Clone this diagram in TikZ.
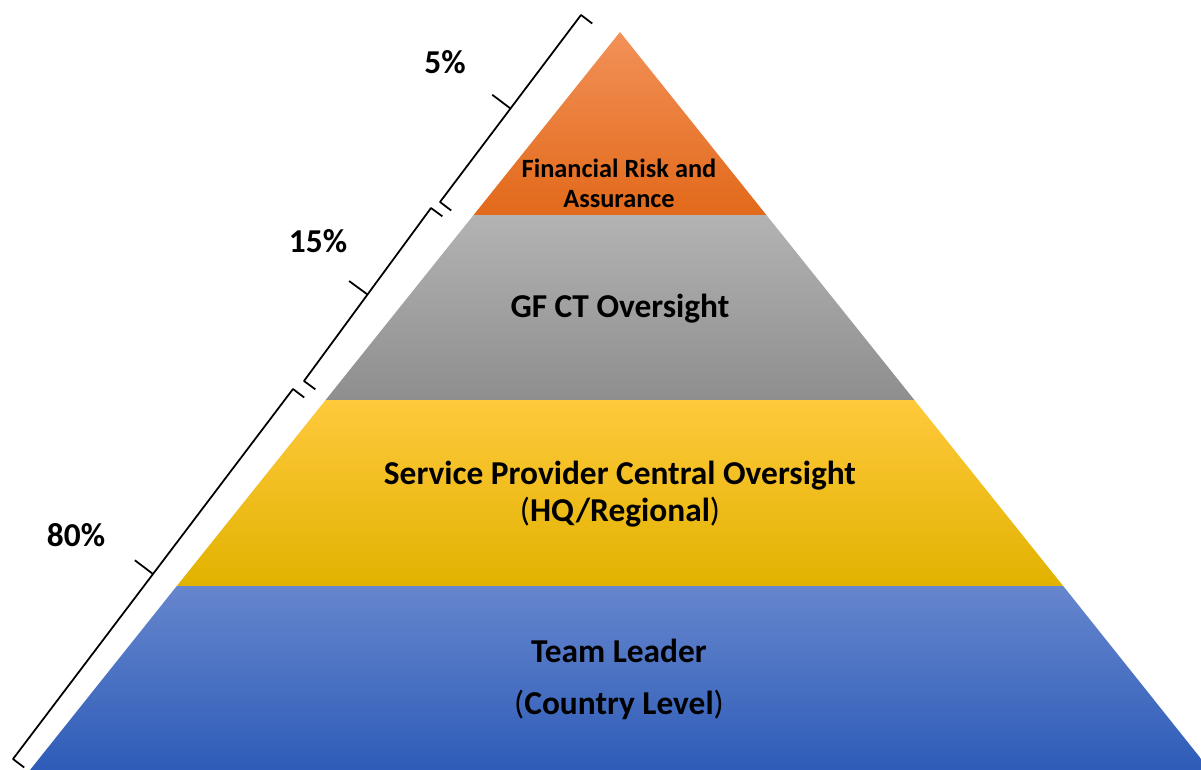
\documentclass[tikz,border=0pt]{standalone}
\usepackage{fontspec}
\setmainfont{Carlito}
\usetikzlibrary{calc}

\definecolor{orangetop}{HTML}{F29158}
\definecolor{orangebot}{HTML}{E2691A}
\definecolor{greytop}{HTML}{B3B3B3}
\definecolor{greybot}{HTML}{8E8E8E}
\definecolor{yellowtop}{HTML}{FFC93C}
\definecolor{yellowmid}{HTML}{FFC300}
\definecolor{yellowbot}{HTML}{E2B200}
\definecolor{bluetop}{HTML}{6686CD}
\definecolor{bluebot}{HTML}{2E5CB8}

\begin{document}
\begin{tikzpicture}[x=0.02cm,y=-0.02cm,
		bigtext/.style={font=\bfseries\fontsize{19}{21.5}\selectfont, align=center},
		smalltext/.style={font=\bfseries\fontsize{15}{17}\selectfont, align=center},
		brace/.style={line width=1pt, line join=round}]

			\path[use as bounding box] (0,0) rectangle (1201,769);
			\clip (0,0) rectangle (1201,769);

			% layers of the pyramid
			\shade[top color=orangetop, bottom color=orangebot] (620,32) -- (766.4,215) -- (473.6,215) -- cycle;
			\shade[top color=greytop, bottom color=greybot] (473.6,215) -- (766.4,215) -- (914.4,400) -- (325.6,400) -- cycle;
			\shade[top color=yellowtop, middle color=yellowmid, bottom color=yellowbot] (325.6,400) -- (914.4,400) -- (1063.2,586) -- (176.8,586) -- cycle;
			\shade[top color=bluetop, bottom color=bluebot] (176.8,586) -- (1063.2,586) -- (1210,770) -- (30,770) -- cycle;

			\node[smalltext] (fra) at (619,183) {Financial Risk and\\Assurance};
			\node[bigtext] (gfct) at (620,309) {GF CT Oversight};
			\node[bigtext] (spco) at (620,494) {Service Provider Central Oversight\\\textmd{(}HQ/Regional\textmd{)}};
			\node[bigtext, font=\bfseries\fontsize{19}{29.5}\selectfont] (tl) at (619,679) {Team Leader\\\textmd{(}Country Level\textmd{)}};

			% brackets on the left side
			\coordinate (s5) at (581,15);   \coordinate (e5) at (440,202);
			\coordinate (s15) at (431,208); \coordinate (e15) at (304,381);
			\coordinate (s80) at (293,389); \coordinate (e80) at (13,759);

			\foreach \b in {5,15,80} {
				\draw[brace] ($(s\b)!8pt!90:(e\b)$) -- (s\b) -- (e\b) -- ($(e\b)!8pt!-90:(s\b)$);
				\draw[brace] ($(s\b)!0.5!(e\b)$) -- ($($(s\b)!0.5!(e\b)$)!13pt!-90:(e\b)$);
			}

			\node[bigtext] (p5) at (445,62) {5\%};
			\node[bigtext] (p15) at (318,241) {15\%};
			\node[bigtext] (p80) at (76,535) {80\%};

		\end{tikzpicture}
\end{document}
